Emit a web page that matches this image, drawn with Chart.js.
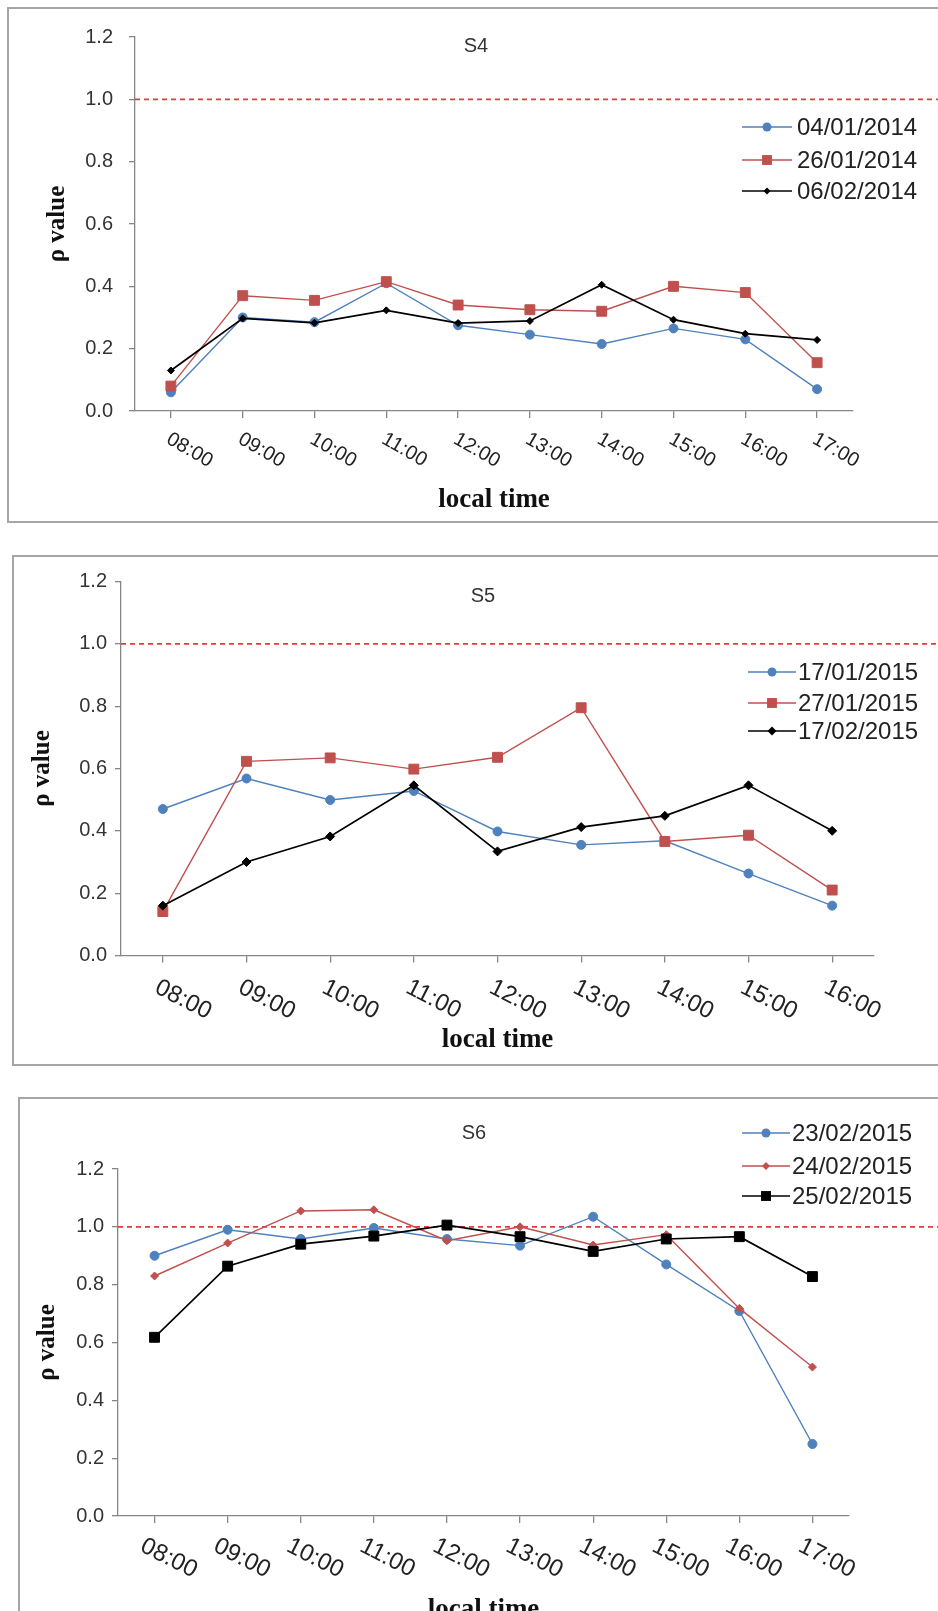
<!DOCTYPE html>
<html>
<head>
<meta charset="utf-8">
<script src="https://cdn.jsdelivr.net/npm/chart.js@4.4.1/dist/chart.umd.min.js"></script>
<style>
  body { margin: 0; background: #fff; width: 938px; height: 1611px; overflow: hidden; position: relative; }
  .panel { position: absolute; border: 2px solid #a6a6a6; box-sizing: border-box; background: #fff; }
  .panel canvas { position: absolute; left: 0; top: 0; }
</style>
</head>
<body>
<div class="panel" id="p4"><canvas id="c4"></canvas></div>
<div class="panel" id="p5"><canvas id="c5"></canvas></div>
<div class="panel" id="p6"><canvas id="c6"></canvas></div>
<script>
// datos
const hoursS4 = ['08:00', '09:00', '10:00', '11:00', '12:00', '13:00', '14:00', '15:00', '16:00', '17:00'];
const hoursS5 = ['08:00', '09:00', '10:00', '11:00', '12:00', '13:00', '14:00', '15:00', '16:00'];
const hoursS6 = ['08:00', '09:00', '10:00', '11:00', '12:00', '13:00', '14:00', '15:00', '16:00', '17:00'];

const s4_20140104 = [0.06, 0.30, 0.285, 0.41, 0.275, 0.245, 0.215, 0.265, 0.23, 0.07];
const s4_20140126 = [0.08, 0.37, 0.355, 0.415, 0.34, 0.325, 0.32, 0.40, 0.38, 0.155];
const s4_20140206 = [0.13, 0.297, 0.283, 0.323, 0.282, 0.289, 0.405, 0.293, 0.248, 0.228];

const s5_20150117 = [0.47, 0.568, 0.499, 0.528, 0.398, 0.355, 0.368, 0.263, 0.16];
const s5_20150127 = [0.141, 0.623, 0.634, 0.598, 0.636, 0.795, 0.366, 0.386, 0.21];
const s5_20150217 = [0.16, 0.30, 0.382, 0.546, 0.334, 0.412, 0.448, 0.546, 0.40];

const s6_20150223 = [0.90, 0.99, 0.958, 0.996, 0.958, 0.935, 1.035, 0.87, 0.709, 0.249];
const s6_20150224 = [0.83, 0.944, 1.055, 1.059, 0.952, 1.0, 0.937, 0.973, 0.718, 0.515];
const s6_20150225 = [0.618, 0.864, 0.94, 0.968, 1.006, 0.966, 0.915, 0.958, 0.966, 0.828];

const yTicks = [0, 0.2, 0.4, 0.6, 0.8, 1.0, 1.2];
const refValue = 1.0;

const BLUE = '#4f81bd';
const RED = '#c0504d';
const BLACK = '#000000';
const AXIS = '#868686';

function serie(label, data, color, style, radius, width, order) {
    return {
        label: label, data: data, borderColor: color, backgroundColor: color,
        borderWidth: width, pointStyle: style, pointRadius: radius, pointHoverRadius: radius,
        pointBorderColor: color, pointBackgroundColor: color, pointBorderWidth: 1,
        tension: 0, order: order
    };
}

// marcador simple para la leyenda
function marker(ctx, style, r, x, y) {
    ctx.beginPath();
    if (style === 'circle') {
        ctx.arc(x, y, r, 0, Math.PI * 2);
    } else if (style === 'rect') {
        const s = r * Math.SQRT1_2;
        ctx.rect(x - s, y - s, 2 * s, 2 * s);
    } else {
        ctx.moveTo(x, y - r); ctx.lineTo(x + r, y); ctx.lineTo(x, y + r); ctx.lineTo(x - r, y);
        ctx.closePath();
    }
    ctx.fill();
}

function makePanel(cfg) {
    const div = document.getElementById(cfg.div);
    div.style.left = cfg.box.x + 'px';
    div.style.top = cfg.box.y + 'px';
    div.style.width = cfg.box.w + 'px';
    div.style.height = cfg.box.h + 'px';
    const ox = cfg.box.x + 2, oy = cfg.box.y + 2;
    const cw = cfg.box.w - 4, ch = cfg.box.h - 4;
    const canvas = document.getElementById(cfg.canvas);
    canvas.width = cw; canvas.height = ch;

    const a = cfg.area;
    const yTitleSize = 25, xTitleSize = 27;
    const xl = cfg.xLabels;

    const panelPlugin = {
        id: 'panel_' + cfg.canvas,
        beforeDatasetsDraw(chart) {
            // línea de referencia a rho = 1
            const ctx = chart.ctx;
            const y = chart.scales.y.getPixelForValue(refValue);
            ctx.save();
            ctx.strokeStyle = '#e03c3c';
            ctx.lineWidth = 1.6;
            ctx.setLineDash([5, 4]);
            ctx.beginPath();
            ctx.moveTo(chart.chartArea.left, y);
            ctx.lineTo(chart.width, y);
            ctx.stroke();
            ctx.restore();
        },
        afterDraw(chart) {
            const ctx = chart.ctx;
            const xs = chart.scales.x;
            ctx.save();
            // etiquetas del eje x giradas hacia abajo
            ctx.fillStyle = '#222';
            ctx.font = xl.size + 'px "Liberation Sans"';
            ctx.textAlign = 'left';
            ctx.textBaseline = 'top';
            chart.data.labels.forEach((lab, i) => {
                const x = xs.getPixelForTick(i);
                ctx.save();
                ctx.translate(x + xl.dx, xs.top + xl.dy);
                ctx.rotate(xl.angle * Math.PI / 180);
                ctx.fillText(lab, 0, 0);
                ctx.restore();
            });
            // título
            ctx.font = '20px "Liberation Sans"';
            ctx.textAlign = 'center';
            ctx.textBaseline = 'middle';
            ctx.fillStyle = '#333';
            ctx.fillText(cfg.title, cfg.titlePos[0] - ox, cfg.titlePos[1] - oy);
            // leyenda
            ctx.font = '24px "Liberation Sans"';
            ctx.textAlign = 'left';
            chart.data.datasets.forEach((ds, i) => {
                const y = cfg.legend.rows[i] - oy;
                const x1 = cfg.legend.x1 - ox, x2 = cfg.legend.x2 - ox;
                ctx.strokeStyle = ds.borderColor;
                ctx.lineWidth = ds.borderWidth;
                ctx.beginPath(); ctx.moveTo(x1, y); ctx.lineTo(x2, y); ctx.stroke();
                ctx.fillStyle = ds.pointBackgroundColor;
                marker(ctx, ds.pointStyle, ds.pointRadius, (x1 + x2) / 2, y);
                ctx.fillStyle = '#222';
                ctx.fillText(ds.label, cfg.legend.tx - ox, y + 1);
            });
            ctx.restore();
        }
    };

    new Chart(canvas, {
        type: 'line',
        data: { labels: cfg.labels, datasets: cfg.datasets },
        options: {
            responsive: false,
            animation: false,
            events: [],
            layout: { padding: { left: 0, top: a.top - oy, right: cw - (a.right - ox), bottom: 0 } },
            plugins: { legend: { display: false }, tooltip: { enabled: false } },
            scales: {
                x: {
                    type: 'category',
                    offset: true,
                    grid: { display: true, offset: false, drawOnChartArea: false, tickLength: 7, color: AXIS, lineWidth: 1.3 },
                    border: { color: AXIS, width: 1.3 },
                    ticks: { display: false },
                    title: {
                        display: true, text: 'local time', color: '#111',
                        font: { family: '"Liberation Serif"', size: xTitleSize, weight: 'bold', lineHeight: 1.2 },
                        padding: { top: 0, bottom: ch - (cfg.xTitleY - oy) - xTitleSize * 0.6 }
                    },
                    afterFit(s) { s.height = ch - (a.bottom - oy); }
                },
                y: {
                    min: 0, max: 1.2,
                    afterBuildTicks(s) { s.ticks = yTicks.map(v => ({ value: v })); },
                    grid: { display: true, drawOnChartArea: false, tickLength: 6, color: AXIS, lineWidth: 1.3 },
                    border: { color: AXIS, width: 1.3 },
                    ticks: {
                        color: '#333', padding: cfg.yPad,
                        font: { family: '"Liberation Sans"', size: 20 },
                        callback: v => Number(v).toFixed(1)
                    },
                    title: {
                        display: true, text: 'ρ value', color: '#111',
                        font: { family: '"Liberation Serif"', size: yTitleSize, weight: 'bold', lineHeight: 1.2 },
                        padding: { top: (cfg.yTitleX - ox) - yTitleSize * 0.6, bottom: 0 }
                    },
                    afterFit(s) { s.width = a.left - ox; }
                }
            }
        },
        plugins: [panelPlugin]
    });
}

makePanel({
    div: 'p4', canvas: 'c4',
    box: { x: 7, y: 7, w: 945, h: 516 },
    area: { left: 135, right: 853, top: 33, bottom: 411 },
    labels: hoursS4,
    datasets: [
        serie('04/01/2014', s4_20140104, BLUE, 'circle', 4.5, 1.4, 2),
        serie('26/01/2014', s4_20140126, RED, 'rect', 7, 1.4, 1),
        serie('06/02/2014', s4_20140206, BLACK, 'rectRot', 3.5, 1.7, 0)
    ],
    title: 'S4', titlePos: [476, 46],
    legend: { x1: 742, x2: 792, tx: 797, rows: [127, 160, 191] },
    xLabels: { size: 20, angle: 30, dx: 2, dy: 18 },
    yPad: 16, yTitleX: 58, xTitleY: 500
});

makePanel({
    div: 'p5', canvas: 'c5',
    box: { x: 12, y: 555, w: 940, h: 511 },
    area: { left: 121, right: 874, top: 581.5, bottom: 955.5 },
    labels: hoursS5,
    datasets: [
        serie('17/01/2015', s5_20150117, BLUE, 'circle', 4.5, 1.4, 2),
        serie('27/01/2015', s5_20150127, RED, 'rect', 7, 1.4, 1),
        serie('17/02/2015', s5_20150217, BLACK, 'rectRot', 4.5, 1.7, 0)
    ],
    title: 'S5', titlePos: [483, 596],
    legend: { x1: 748, x2: 796, tx: 798, rows: [672, 703, 731] },
    xLabels: { size: 24, angle: 27, dx: -1, dy: 20 },
    yPad: 8, yTitleX: 43, xTitleY: 1040
});

makePanel({
    div: 'p6', canvas: 'c6',
    box: { x: 18, y: 1097, w: 935, h: 540 },
    area: { left: 118, right: 849, top: 1169, bottom: 1516 },
    labels: hoursS6,
    datasets: [
        serie('23/02/2015', s6_20150223, BLUE, 'circle', 4.5, 1.4, 2),
        serie('24/02/2015', s6_20150224, RED, 'rectRot', 4, 1.4, 1),
        serie('25/02/2015', s6_20150225, BLACK, 'rect', 7, 1.7, 0)
    ],
    title: 'S6', titlePos: [474, 1133],
    legend: { x1: 742, x2: 790, tx: 792, rows: [1133, 1166, 1196] },
    xLabels: { size: 24, angle: 27, dx: -7, dy: 18 },
    yPad: 8, yTitleX: 48, xTitleY: 1610
});
</script>
</body>
</html>
